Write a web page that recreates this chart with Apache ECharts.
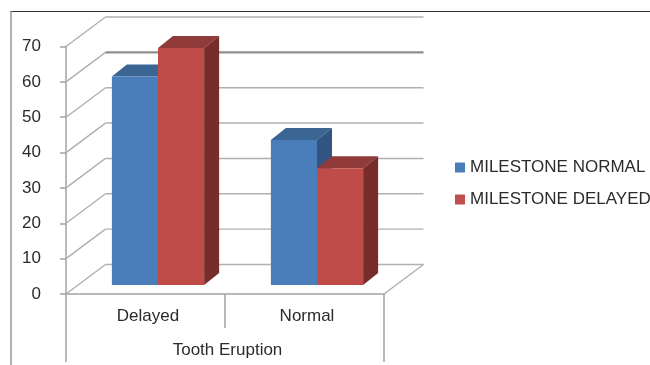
<!DOCTYPE html>
<html>
<head>
<meta charset="utf-8">
<style>html,body{margin:0;padding:0;background:#fff}#c{width:650px;height:365px}</style>
<script src="https://cdn.jsdelivr.net/npm/echarts@6/dist/echarts.min.js"></script>
</head>
<body>
<div id="c"></div>
<script>
const categories = ['Delayed', 'Normal'];
const outerCategories = ['Tooth Eruption'];
const seriesNames = ['MILESTONE NORMAL', 'MILESTONE DELAYED'];
const normalValues = [59, 41];
const delayedValues = [67, 33];
const yTicks = [0, 10, 20, 30, 40, 50, 60, 70];
const heavyTick = 60;

const FONT = '"Liberation Sans", Arial, sans-serif';
const TEXT = '#2b2b2b';
const AXIS = '#a3a3a8';
const wall = [39.5, -29.5];
const barShift = [12.5, -9];
const depth = [15, -12];
const barRatio = 0.29;

function pts(list) { return { points: list }; }

function renderWall(params, api) {
  const v = api.value(1);
  const p = api.coord([0, v]);
  const left = params.coordSys.x;
  const right = left + params.coordSys.width;
  const y = p[1];
  const heavy = v === heavyTick;
  const children = [{
    type: 'line',
    shape: { x1: left, y1: y, x2: left + wall[0], y2: y + wall[1] },
    style: { stroke: '#b0b0b0', lineWidth: 1.4 }
  }, {
    type: 'line',
    shape: { x1: left + wall[0], y1: y + wall[1], x2: right + wall[0], y2: y + wall[1] },
    style: { stroke: heavy ? '#8e8e8e' : '#b0b0b0', lineWidth: heavy ? 2.2 : 1.4 }
  }];
  if (v === 0) {
    children.push({
      type: 'line',
      shape: { x1: right, y1: y, x2: right + wall[0], y2: y + wall[1] },
      style: { stroke: '#b0b0b0', lineWidth: 1.4 }
    });
  }
  return { type: 'group', children };
}

function barRenderer(sign, front, top, side) {
  return function (params, api) {
    const c = api.coord([api.value(0), api.value(1)]);
    const base = api.coord([api.value(0), 0]);
    const w = api.size([1, 0])[0] * barRatio;
    const x0 = c[0] + barShift[0] + (sign < 0 ? -w : 0);
    const x1 = x0 + w;
    const yt = c[1] + barShift[1];
    const yb = base[1] + barShift[1];
    const dx = depth[0], dy = depth[1];
    return {
      type: 'group',
      children: [
        { type: 'polygon', shape: pts([[x0, yt], [x1, yt], [x1 + dx, yt + dy], [x0 + dx, yt + dy]]), style: { fill: top } },
        { type: 'polygon', shape: pts([[x1, yt], [x1 + dx, yt + dy], [x1 + dx, yb + dy], [x1, yb]]), style: { fill: side } },
        { type: 'polygon', shape: pts([[x0, yt], [x1, yt], [x1, yb], [x0, yb]]), style: { fill: front } }
      ]
    };
  };
}

const chart = echarts.init(document.getElementById('c'), null, { renderer: 'canvas' });
chart.setOption({
  animation: false,
  backgroundColor: '#ffffff',
  textStyle: { fontFamily: FONT },
  grid: { left: 66, top: 46.5, width: 318, height: 247.5 },
  legend: {
    orient: 'vertical', left: 450, top: 154, itemWidth: 10, itemHeight: 10, itemGap: 15,
    icon: 'rect', data: seriesNames,
    textStyle: { fontFamily: FONT, fontSize: 17, color: TEXT }
  },
  xAxis: [{
    type: 'category', data: categories, position: 'bottom',
    axisLine: { lineStyle: { color: AXIS, width: 1.5 } },
    axisTick: { show: true, alignWithLabel: false, length: 34, lineStyle: { color: AXIS, width: 1.5 } },
    axisLabel: { fontFamily: FONT, fontSize: 17, color: TEXT, margin: 14, padding: [0, 0, 0, 5] },
    splitLine: { show: false }
  }, {
    type: 'category', data: outerCategories, position: 'bottom', offset: 34,
    axisLine: { show: false },
    axisTick: { show: true, length: 34, lineStyle: { color: AXIS, width: 1.5 } },
    axisLabel: { fontFamily: FONT, fontSize: 17, color: TEXT, margin: 14, padding: [0, 0, 0, 5] },
    splitLine: { show: false }
  }],
  yAxis: {
    type: 'value', min: 0, max: 70, interval: 10,
    axisLine: { show: true, lineStyle: { color: AXIS, width: 1.5 } },
    axisTick: { show: true, length: 6, lineStyle: { color: AXIS, width: 1.5 } },
    axisLabel: { fontFamily: FONT, fontSize: 17, color: TEXT, margin: 25, padding: [1, 0, 0, 0] },
    splitLine: { show: false }
  },
  graphic: [
    { type: 'line', silent: true, shape: { x1: 10, y1: 11.5, x2: 650, y2: 11.5 }, style: { stroke: '#333333', lineWidth: 1 } },
    { type: 'line', silent: true, shape: { x1: 11, y1: 11, x2: 11, y2: 365 }, style: { stroke: '#9a9a9a', lineWidth: 1.5 } }
  ],
  series: [
    {
      name: 'wall', type: 'custom', xAxisIndex: 0, z: 1, silent: true, clip: false,
      data: yTicks.map(t => [0, t]), encode: { x: 0, y: 1 }, renderItem: renderWall
    },
    {
      name: seriesNames[0], type: 'custom', xAxisIndex: 0, z: 2, clip: false,
      itemStyle: { color: '#4a7ebb' },
      data: normalValues.map((v, i) => [i, v]), encode: { x: 0, y: 1 },
      renderItem: barRenderer(-1, '#4a7ebb', '#3b6593', '#315580')
    },
    {
      name: seriesNames[1], type: 'custom', xAxisIndex: 0, z: 3, clip: false,
      itemStyle: { color: '#c0504d' },
      data: delayedValues.map((v, i) => [i, v]), encode: { x: 0, y: 1 },
      renderItem: barRenderer(1, '#c04c4a', '#903a39', '#772d2c')
    }
  ]
});
</script>
</body>
</html>
